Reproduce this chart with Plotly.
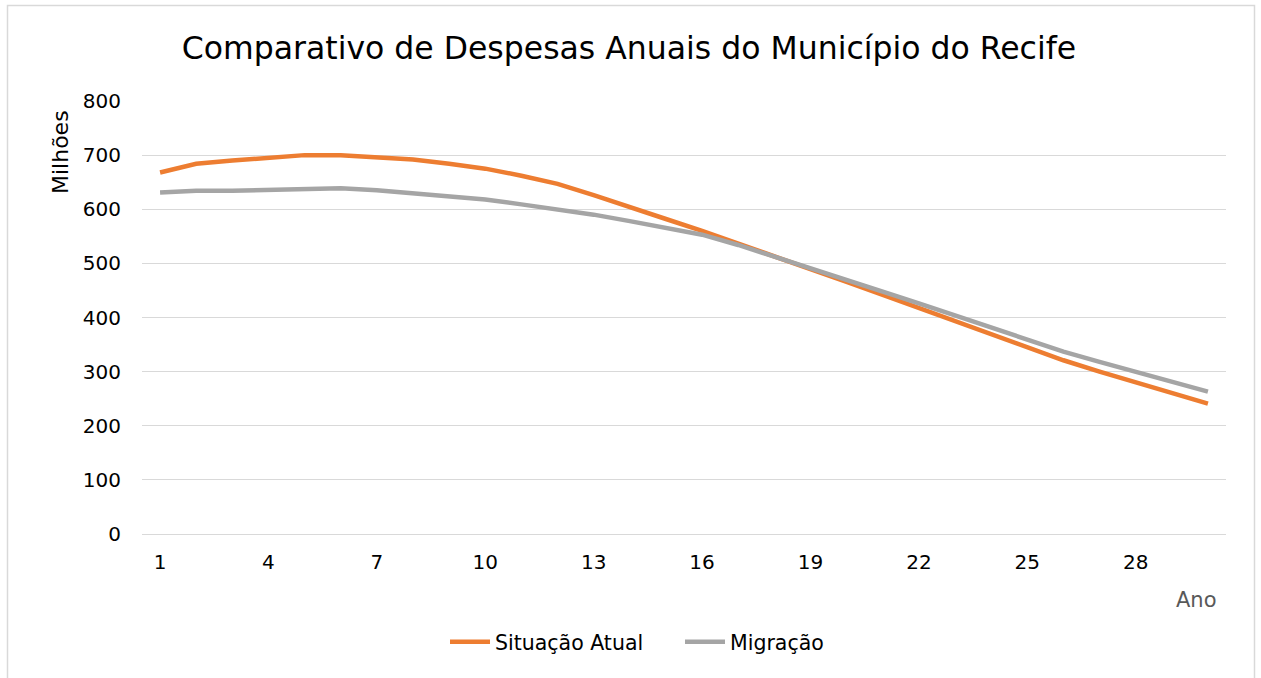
import plotly.graph_objects as go

anos = list(range(1, 31))
situacao_atual = [668, 684, 690, 696, 700, 700, 697, 692, 684, 675, 662, 647, 626, 603, 582,
                  560, 537, 514, 490, 466, 442, 418, 394, 370, 346, 321, 300, 280, 260, 241]
migracao = [631, 634, 634, 636, 637, 639, 635, 629, 625, 618, 609, 600, 590, 578, 566,
            553, 534, 513, 492, 470, 448, 426, 404, 382, 359, 337, 318, 299, 281, 263]
x_ticks = [1, 4, 7, 10, 13, 16, 19, 22, 25, 28]
y_ticks = [0, 100, 200, 300, 400, 500, 600, 700, 800]

W, H = 1261, 678
L, R, T, B = 142, 35, 101, 144
pw, ph = W - L - R, H - T - B
FONT = "DejaVu Sans"

def px(x):
    return (x - L) / pw

def py(y):
    return (H - B - y) / ph

fig = go.Figure()
fig.add_trace(go.Scatter(x=anos, y=situacao_atual, mode="lines", name="Situação Atual",
                         line=dict(color="#ED7D31", width=4.5)))
fig.add_trace(go.Scatter(x=anos, y=migracao, mode="lines", name="Migração",
                         line=dict(color="#A5A5A5", width=4.5)))

fig.update_layout(
    width=W, height=H,
    margin=dict(l=L, r=R, t=T, b=B),
    paper_bgcolor="white", plot_bgcolor="white",
    title=dict(text="Comparativo de Despesas Anuais do Município do Recife",
               x=629 / W, xref="container", xanchor="center",
               y=1 - 48 / H, yref="container", yanchor="middle",
               font=dict(family=FONT, size=31.5, color="black")),
    xaxis=dict(range=[0.5, 30.5], tickmode="array", tickvals=x_ticks,
               ticktext=[str(v) for v in x_ticks], showgrid=False, zeroline=False,
               showline=False, ticks="", ticklabelstandoff=14,
               tickfont=dict(family=FONT, size=20, color="black")),
    yaxis=dict(range=[0, 800], tickmode="array", tickvals=y_ticks,
               ticktext=[str(v) for v in y_ticks], showgrid=True, gridcolor="#D9D9D9",
               gridwidth=1, zeroline=True, zerolinecolor="#D9D9D9", zerolinewidth=1,
               showline=False, ticks="", ticklabelstandoff=20,
               tickfont=dict(family=FONT, size=20, color="black")),
    legend=dict(orientation="h", x=px(680), xanchor="center", y=py(642), yanchor="middle",
                font=dict(family=FONT, size=20.5, color="black"),
                itemwidth=40, entrywidth=180, tracegroupgap=0, bgcolor="rgba(0,0,0,0)"),
    showlegend=True,
)

fig.add_annotation(text="Milhões", textangle=-90, x=px(60), y=py(152), xref="paper", yref="paper",
                   showarrow=False, xanchor="center", yanchor="middle",
                   font=dict(family=FONT, size=22, color="black"))
fig.add_annotation(text="Ano", x=px(1196), y=py(600), xref="paper", yref="paper",
                   showarrow=False, xanchor="center", yanchor="middle",
                   font=dict(family=FONT, size=21, color="#595959"))

fig.add_shape(type="rect", xref="paper", yref="paper",
              x0=px(7.5), x1=px(1254.5), y0=py(690), y1=py(5.5),
              line=dict(color="#D9D9D9", width=1.5), fillcolor="rgba(0,0,0,0)", layer="below")

fig.write_html("out.html", config={"displayModeBar": False},
               post_script="document.body.style.margin='0px';")
